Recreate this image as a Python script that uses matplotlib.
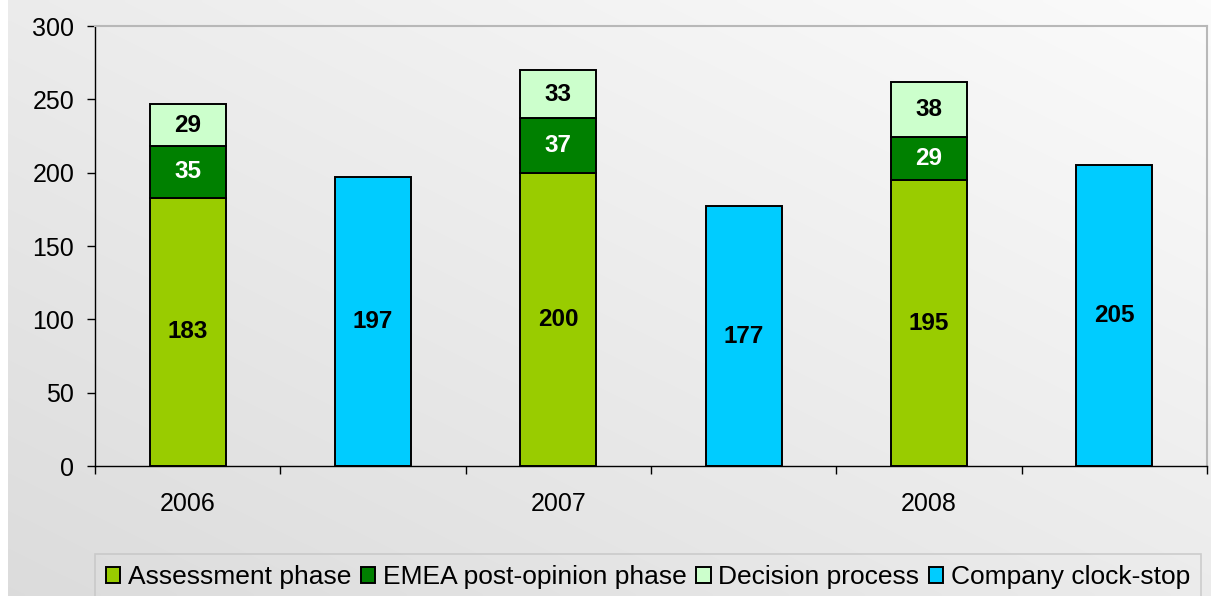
import numpy as np
import matplotlib
matplotlib.use("Agg")
import matplotlib.pyplot as plt
from matplotlib.patches import Patch

years = ["2006", "2007", "2008"]
assessment = [183, 200, 195]
emea = [35, 37, 29]
decision = [29, 33, 38]
clockstop = [197, 177, 205]
series_names = ["Assessment phase", "EMEA post-opinion phase", "Decision process", "Company clock-stop"]
colors = ["#99CC00", "#008000", "#CCFFCC", "#00CCFF"]
label_colors = ["black", "white", "black", "black"]

plt.rcParams["font.family"] = ["Liberation Sans", "DejaVu Sans"]

W, H = 1211, 596
fig = plt.figure(figsize=(W / 100, H / 100), dpi=100)
fig.patch.set_facecolor("white")

# gradient background
bg = fig.add_axes([8 / W, 0, 1 - 8 / W, 1], zorder=-10)
gx = np.linspace(0, 1, 300)
gy = np.linspace(0, 1, 150)
X, Y = np.meshgrid(gx, gy)
t = (X + (1 - Y)) / 2.0
lo, hi = 0.862, 0.985
img = lo + (hi - lo) * t
bg.imshow(np.dstack([img, img, img]), aspect="auto", extent=[0, 1, 1, 0], interpolation="bilinear")
bg.set_axis_off()

ax = fig.add_axes([95 / W, 1 - 466 / H, (1207 - 95) / W, (466 - 26) / H])
ax.set_facecolor("none")

n = len(years)
xs_year = np.arange(n) * 2
xs_clock = np.arange(n) * 2 + 1
bw = 0.41
edge = dict(edgecolor="black", linewidth=1.4)

b1 = ax.bar(xs_year, assessment, bw, color=colors[0], **edge)
b2 = ax.bar(xs_year, emea, bw, bottom=assessment, color=colors[1], **edge)
bottom3 = np.array(assessment) + np.array(emea)
b3 = ax.bar(xs_year, decision, bw, bottom=bottom3, color=colors[2], **edge)
b4 = ax.bar(xs_clock, clockstop, bw, color=colors[3], **edge)

for bars, col in zip([b1, b2, b3, b4], label_colors):
    ax.bar_label(bars, label_type="center", color=col, fontsize=17.5, fontweight="bold")

ax.set_xlim(-0.5, 2 * n - 0.5)
ax.set_ylim(0, 300)
ax.set_yticks(np.arange(0, 301, 50))
ax.tick_params(axis="y", labelsize=18, length=6, width=1, direction="out", pad=9, colors="black")
ax.set_xticks(xs_year)
ax.set_xticklabels(years)
ax.set_xticks(np.arange(-0.5, 2 * n, 1.0), minor=True)
ax.tick_params(axis="x", which="major", length=0, labelsize=18, pad=19)
ax.tick_params(axis="x", which="minor", length=6, width=1, direction="out")

for s in ["left", "bottom"]:
    ax.spines[s].set_color("black")
    ax.spines[s].set_linewidth(1.0)
for s in ["top", "right"]:
    ax.spines[s].set_color("#b8b8b8")
    ax.spines[s].set_linewidth(1.5)

handles = [Patch(facecolor=c, edgecolor="black", linewidth=1.4) for c in colors]
leg = fig.legend(handles, series_names, loc="lower left", bbox_to_anchor=(95 / W, -0.006),
                 ncol=4, fontsize=19, frameon=True, fancybox=False,
                 handlelength=0.55, handleheight=0.55, handletextpad=0.3,
                 columnspacing=0.35, borderpad=0.4, borderaxespad=0)
leg.get_frame().set_edgecolor("#c4c4c4")
leg.get_frame().set_facecolor("none")
leg.get_frame().set_linewidth(1.2)

fig.savefig("out.png", dpi=100)
